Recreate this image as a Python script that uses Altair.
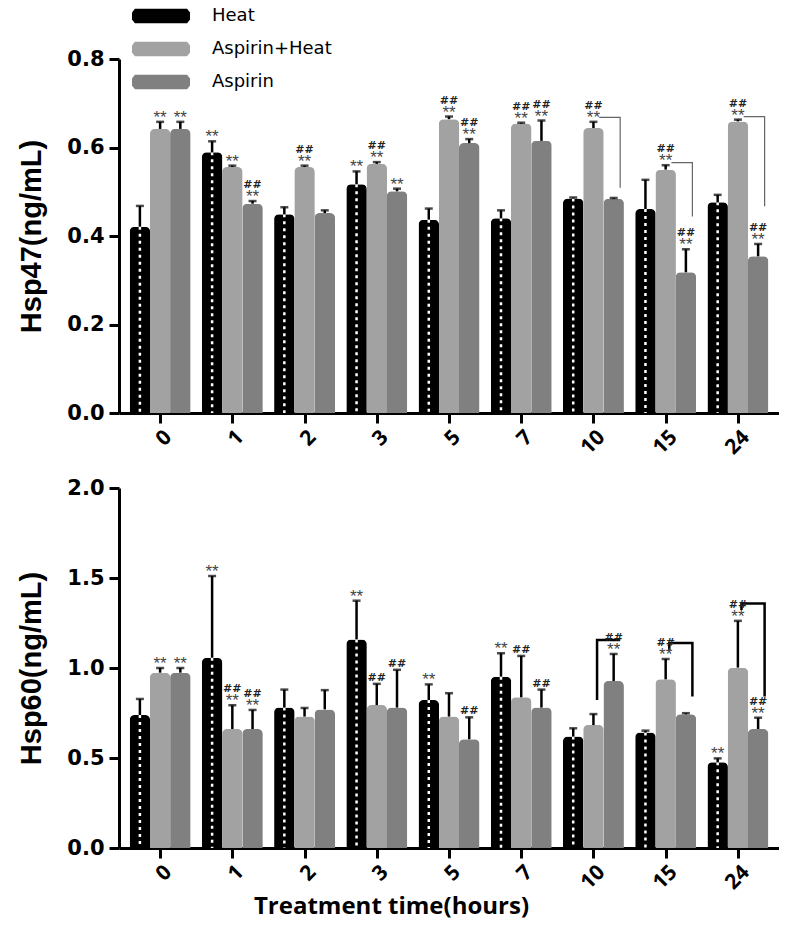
import altair as alt
import pandas as pd

TIMES = ["0", "1", "2", "3", "5", "7", "10", "15", "24"]
SERIES = ["Heat", "Aspirin+Heat", "Aspirin"]
COLORS = ["#000000", "#a2a2a2", "#808080"]

# Hsp47 (top panel)
HSP47_HEAT = [0.421, 0.589, 0.449, 0.517, 0.437, 0.440, 0.485, 0.461, 0.476]
HSP47_HEAT_ERR = [0.047, 0.025, 0.016, 0.029, 0.025, 0.018, 0.002, 0.066, 0.017]
HSP47_ASPH = [0.642, 0.556, 0.556, 0.563, 0.664, 0.654, 0.644, 0.550, 0.659]
HSP47_ASPH_ERR = [0.016, 0.003, 0.003, 0.004, 0.006, 0.002, 0.014, 0.010, 0.004]
HSP47_ASP = [0.642, 0.473, 0.452, 0.501, 0.610, 0.615, 0.484, 0.318, 0.354]
HSP47_ASP_ERR = [0.016, 0.006, 0.006, 0.006, 0.009, 0.046, 0.002, 0.052, 0.028]
HSP47_ANN_HEAT = ["", "**", "", "**", "", "", "", "", ""]
HSP47_ANN_ASPH = ["**", "**", "##**", "##**", "##**", "##**", "##**", "##**", "##**"]
HSP47_ANN_ASP = ["**", "##**", "", "**", "##**", "##**", "", "##**", "##**"]
HSP47_BR_GROUP = [6, 7, 8]
HSP47_BR_TOP = [0.668, 0.566, 0.670]
HSP47_BR_LEFT = [0.668, 0.566, 0.670]
HSP47_BR_RIGHT = [0.509, 0.444, 0.467]

# Hsp60 (bottom panel)
HSP60_HEAT = [0.739, 1.057, 0.780, 1.159, 0.822, 0.952, 0.619, 0.641, 0.476]
HSP60_HEAT_ERR = [0.089, 0.454, 0.100, 0.215, 0.087, 0.130, 0.046, 0.011, 0.022]
HSP60_ASPH = [0.974, 0.661, 0.730, 0.794, 0.730, 0.837, 0.683, 0.937, 1.002]
HSP60_ASPH_ERR = [0.026, 0.132, 0.048, 0.118, 0.130, 0.230, 0.061, 0.113, 0.260]
HSP60_ASP = [0.974, 0.661, 0.770, 0.780, 0.604, 0.780, 0.928, 0.743, 0.661]
HSP60_ASP_ERR = [0.026, 0.106, 0.107, 0.210, 0.122, 0.100, 0.150, 0.006, 0.063]
HSP60_ANN_HEAT = ["", "**", "", "**", "**", "**", "", "", "**"]
HSP60_ANN_ASPH = ["**", "##**", "", "##", "", "##", "", "##**", "##**"]
HSP60_ANN_ASP = ["**", "##**", "", "##", "##", "##", "##**", "", "##**"]
HSP60_BR_GROUP = [6, 7, 8]
HSP60_BR_TOP = [1.156, 1.139, 1.359]
HSP60_BR_LEFT = [0.822, 1.100, 1.322]
HSP60_BR_RIGHT = [1.156, 0.841, 0.841]

OFFS = {"Heat": -0.28, "Aspirin+Heat": 0.0, "Aspirin": 0.28}
LABEL_EXPR = "[" + ",".join("'%s'" % t for t in TIMES) + "][round(datum.value)]"


def bar_table(means, errs, anns):
    rows = []
    for s, m, e, a in zip(SERIES, means, errs, anns):
        for i in range(len(TIMES)):
            rows.append({"idx": i, "series": s, "value": m[i], "err": e[i],
                         "top": m[i] + e[i], "ann": a[i], "zero": 0.0,
                         "xpos": i + OFFS[s]})
    return pd.DataFrame(rows)


def bracket_table(groups, tops, lefts, rights, lo=0.07, ro=0.07):
    rows = []
    for b, (g, t, l, r) in enumerate(zip(groups, tops, lefts, rights)):
        xl = g + OFFS["Aspirin+Heat"] + lo
        xr = g + OFFS["Aspirin"] + ro
        pts = [(xl, l), (xl, t), (xr, t), (xr, r)]
        for k, (x, y) in enumerate(pts):
            rows.append({"bid": b, "ord": k, "xpos": x, "y": y})
    return pd.DataFrame(rows)


def panel(df, br, ymax, ystep, height, ytitle, legend, xtitle, brcolor, brwidth):
    def X(field):
        return alt.X(field + ":Q",
                     scale=alt.Scale(domain=[-0.5, 8.5], nice=False, zero=False),
                     axis=alt.Axis(values=list(range(9)), labelExpr=LABEL_EXPR,
                                   labelAngle=-45, labelFont="Open Sans",
                                   labelFontSize=21, labelFontWeight="bold",
                                   labelPadding=3,
                                   title=xtitle, titleFont="Open Sans",
                                   titleFontSize=24, titleFontWeight="bold",
                                   titleX=272, titlePadding=2))

    def Y(field):
        vals = [round(k * ystep, 2) for k in range(int(round(ymax / ystep)) + 1)]
        return alt.Y(field + ":Q",
                     scale=alt.Scale(domain=[0, ymax], nice=False, zero=True),
                     axis=alt.Axis(values=vals, format=".1f",
                                   labelFont="DejaVu Sans", labelFontSize=21,
                                   labelFontWeight="bold", labelPadding=5,
                                   title=ytitle, titleFont="Liberation Sans",
                                   titleFontSize=29, titleFontWeight="bold",
                                   titlePadding=20))

    if legend:
        leg = alt.Legend(orient="none", legendX=13, legendY=-51, title=None,
                         symbolType="M-0.9,-0.25L0.9,-0.25L1,-0.12L1,0.12L0.9,0.25L-0.9,0.25L-1,0.12L-1,-0.12Z",
                         symbolSize=3364, symbolStrokeWidth=0, symbolOpacity=1,
                         labelFont="DejaVu Sans", labelFontSize=18, labelColor="black",
                         labelOffset=22, clipHeight=16, rowPadding=15, padding=0)
    else:
        leg = None

    base = alt.Chart(df)
    bars = base.mark_bar(width=20.5, cornerRadiusTopLeft=5, cornerRadiusTopRight=5).encode(
        x=X("xpos"), y=Y("value"),
        color=alt.Color("series:N", scale=alt.Scale(domain=SERIES, range=COLORS),
                        legend=leg, sort=SERIES))
    dash = base.transform_filter("datum.series == 'Heat'").mark_rule(
        color="white", strokeWidth=2.5, strokeDash=[3, 4]).encode(
        x=X("xpos"), y=Y("value"), y2=alt.Y2("zero:Q"))
    err = base.mark_rule(color="black", strokeWidth=2.5).encode(
        x=X("xpos"), y=Y("value"), y2=alt.Y2("top:Q"))
    cap = base.mark_tick(orient="horizontal", size=8, thickness=2.5, color="black").encode(
        x=X("xpos"), y=Y("top"))
    stars = base.transform_filter("indexof(datum.ann, '**') >= 0").mark_text(
        text="**", baseline="alphabetic", dy=1, fontSize=17, font="Liberation Sans",
        color="#444444").encode(x=X("xpos"), y=Y("top"))
    hash2 = base.transform_filter("datum.ann == '##**'").mark_text(
        text="##", baseline="alphabetic", dy=-13, fontSize=11, font="DejaVu Sans",
        fontWeight="bold", color="#222222").encode(x=X("xpos"), y=Y("top"))
    hash1 = base.transform_filter("datum.ann == '##'").mark_text(
        text="##", baseline="alphabetic", dy=-3, fontSize=11, font="DejaVu Sans",
        fontWeight="bold", color="#222222").encode(x=X("xpos"), y=Y("top"))
    brk = alt.Chart(br).mark_line(color=brcolor, strokeWidth=brwidth).encode(
        x=X("xpos"), y=Y("y"), detail="bid:N", order="ord:Q")
    return alt.layer(bars, dash, err, cap, brk, stars, hash2, hash1).properties(
        width=660, height=height)


df47 = bar_table([HSP47_HEAT, HSP47_ASPH, HSP47_ASP],
                 [HSP47_HEAT_ERR, HSP47_ASPH_ERR, HSP47_ASP_ERR],
                 [HSP47_ANN_HEAT, HSP47_ANN_ASPH, HSP47_ANN_ASP])
df60 = bar_table([HSP60_HEAT, HSP60_ASPH, HSP60_ASP],
                 [HSP60_HEAT_ERR, HSP60_ASPH_ERR, HSP60_ASP_ERR],
                 [HSP60_ANN_HEAT, HSP60_ANN_ASPH, HSP60_ANN_ASP])
br47 = bracket_table(HSP47_BR_GROUP, HSP47_BR_TOP, HSP47_BR_LEFT, HSP47_BR_RIGHT, 0.08, 0.09)
br60 = bracket_table(HSP60_BR_GROUP, HSP60_BR_TOP, HSP60_BR_LEFT, HSP60_BR_RIGHT, 0.05, 0.09)

top = panel(df47, br47, 0.8, 0.2, 354, "Hsp47(ng/mL)", True, None, "#666666", 1.2)
bottom = panel(df60, br60, 2.0, 0.5, 360, "Hsp60(ng/mL)", False,
               "Treatment time(hours)", "black", 2.5)

chart = alt.vconcat(top, bottom, spacing=19).resolve_scale(
    color="independent").properties(
    padding={"left": 9, "top": 0, "right": 0, "bottom": 0}
).configure_view(stroke=None).configure_axis(
    grid=False, domainColor="black", domainWidth=3, tickColor="black",
    tickWidth=3, tickSize=10, labelColor="black", titleColor="black")

chart.save("out.html", embed_options={"renderer": "svg", "actions": False})
